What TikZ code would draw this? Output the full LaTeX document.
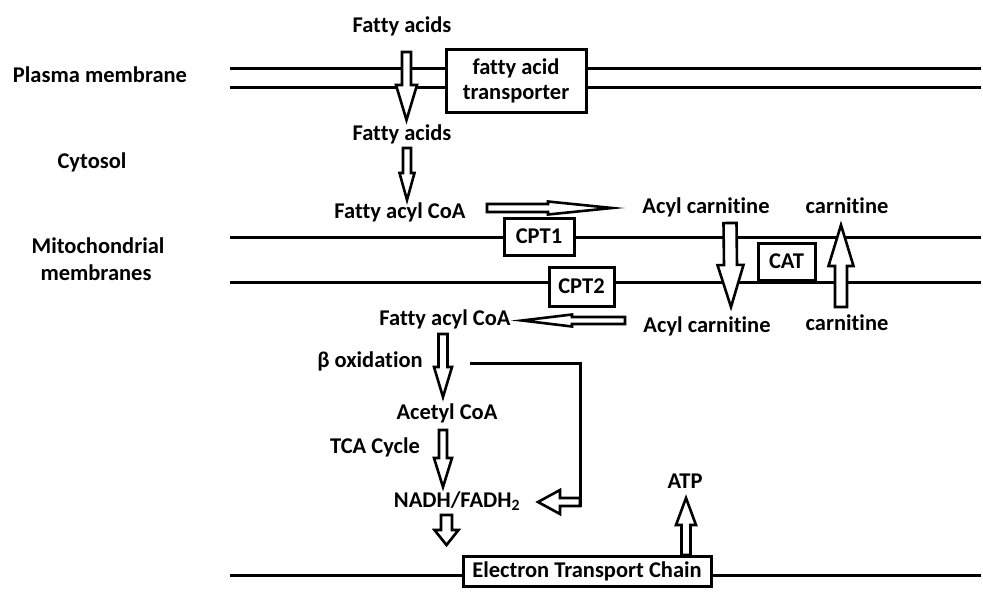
\documentclass[tikz,border=0pt]{standalone}
\usepackage{fontspec}
\setmainfont{Carlito}[Ligatures=NoCommon]
\usetikzlibrary{calc}

\tikzset{
  lbl/.style={font=\bfseries\fontsize{22.5}{25}\selectfont,inner sep=0pt,anchor=base},
  membrane/.style={line width=3pt},
  boxnode/.style={draw,line width=3pt,fill=white,inner sep=0pt,align=center,
    font=\bfseries\fontsize{22.5}{25}\selectfont},
  blockarr/.style={draw,line width=2.6pt,fill=white,line join=miter}
}

% hollow block arrow: from, to, shaft half width, head half width, head length
\newcommand{\blockarrow}[5]{%
  \coordinate (headbase) at ($(#2)!#5!(#1)$);
  \draw[blockarr] ($(#1)!#3!90:(#2)$) -- ($(headbase)!#3!90:(#2)$)
    -- ($(headbase)!#4!90:(#2)$) -- (#2) -- ($(headbase)!#4!-90:(#2)$)
    -- ($(headbase)!#3!-90:(#2)$) -- ($(#1)!#3!-90:(#2)$) -- cycle;}

\begin{document}
\begin{tikzpicture}[x=1pt,y=-1pt]

  \useasboundingbox (0,0) rectangle (983,605);

  % membranes
  \draw[membrane] (230,68) -- (981,68);
  \draw[membrane] (230,87) -- (981,87);
  \draw[membrane] (230,237) -- (981,237);
  \draw[membrane] (230,282) -- (981,282);
  \draw[membrane] (230,575) -- (981,575);

  % compartment labels
  \node[lbl] (plasma) at (100,82) {Plasma membrane};
  \node[lbl] (cytosol) at (92,168) {Cytosol};
  \node[lbl] (mito) at (98,253) {Mitochondrial};
  \node[lbl] (mito2) at (96,280) {membranes};

  % boxes
  \node[boxnode,minimum width=140,minimum height=63] (transp)
    at (516,80.5) {fatty acid\\transporter};
  \node[boxnode,minimum width=70,minimum height=37] (cpt1) at (539,236.5) {CPT1};
  \node[boxnode,minimum width=65,minimum height=39] (cpt2) at (581.5,286.5) {CPT2};
  \node[boxnode,minimum width=57,minimum height=37] (cat) at (786.5,261.5) {CAT};
  \node[boxnode,minimum width=248,minimum height=30] (etc)
    at (587,571) {Electron Transport Chain};

  % metabolites
  \node[lbl] (fa1) at (402,32) {Fatty acids};
  \node[lbl] (fa2) at (402,140) {Fatty acids};
  \node[lbl] (facoa1) at (400,218) {Fatty acyl CoA};
  \node[lbl] (acyl1) at (706,213) {Acyl carnitine};
  \node[lbl] (carn1) at (847,213) {carnitine};
  \node[lbl] (acyl2) at (707,332) {Acyl carnitine};
  \node[lbl] (carn2) at (847,330) {carnitine};
  \node[lbl] (facoa2) at (445,325) {Fatty acyl CoA};
  \node[lbl] (betaox) at (370,367) {β oxidation};
  \node[lbl] (acetyl) at (447,419) {Acetyl CoA};
  \node[lbl] (tca) at (375,453) {TCA Cycle};
  \node[lbl] (nadh) at (457,507) {NADH/FADH\textsubscript{2}};
  \node[lbl] (atp) at (685,488) {ATP};

  % arrow ends
  \coordinate (faIn) at (406.5,52);
  \coordinate (faOut) at (406.5,120);
  \coordinate (coaIn) at (407,148);
  \coordinate (coaOut) at (407,200);
  \coordinate (cpt1In) at (487,208);
  \coordinate (cpt1Out) at (612,208);
  \coordinate (acylIn) at (730,223);
  \coordinate (acylOut) at (731,307);
  \coordinate (carnIn) at (841,307);
  \coordinate (carnOut) at (841,225);
  \coordinate (cpt2In) at (625,320.5);
  \coordinate (cpt2Out) at (522,320.5);
  \coordinate (betaIn) at (443,334);
  \coordinate (betaOut) at (443,397);
  \coordinate (tcaIn) at (443,430);
  \coordinate (tcaOut) at (443,487);
  \coordinate (etcIn) at (446.5,515);
  \coordinate (etcOut) at (446.5,545);
  \coordinate (loopIn) at (580,502);
  \coordinate (loopOut) at (538,502);
  \coordinate (atpIn) at (686,555);
  \coordinate (atpOut) at (686,498);
  \coordinate (betaSide) at (470,363);
  \coordinate (loopEnd) at (580,507);

  \blockarrow{faIn}{faOut}{4.5pt}{10.5pt}{35pt}
  \blockarrow{coaIn}{coaOut}{4pt}{7.5pt}{27pt}
  \blockarrow{cpt1In}{cpt1Out}{4pt}{6.5pt}{64pt}
  \blockarrow{acylIn}{acylOut}{6.5pt}{13pt}{42pt}
  \blockarrow{carnIn}{carnOut}{6pt}{12.5pt}{41pt}
  \blockarrow{cpt2In}{cpt2Out}{3.5pt}{6pt}{50pt}
  \blockarrow{betaIn}{betaOut}{4.5pt}{9pt}{30pt}
  \blockarrow{tcaIn}{tcaOut}{4pt}{9pt}{29pt}
  \blockarrow{etcIn}{etcOut}{5.5pt}{12pt}{15pt}
  \blockarrow{loopIn}{loopOut}{4pt}{12pt}{22pt}
  \blockarrow{atpIn}{atpOut}{4.5pt}{10pt}{27pt}

  \draw[membrane] (betaSide) -| (loopEnd);

\end{tikzpicture}
\end{document}
